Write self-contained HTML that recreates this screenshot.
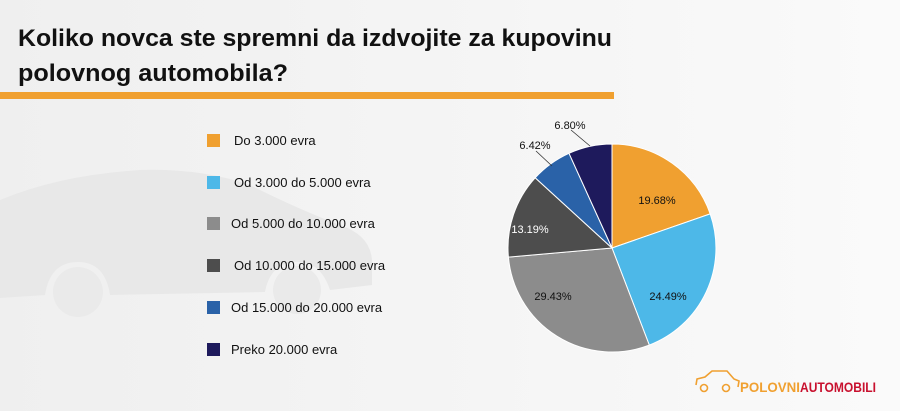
<!DOCTYPE html>
<html><head><meta charset="utf-8"><style>
html,body{margin:0;padding:0;width:900px;height:411px;overflow:hidden;background:#f4f4f4}
svg{display:block}
</style></head><body>
<svg width="900" height="411" viewBox="0 0 900 411" xmlns="http://www.w3.org/2000/svg" font-family="Liberation Sans, sans-serif">
<defs><linearGradient id="bg" x1="0" y1="0" x2="1" y2="0"><stop offset="0" stop-color="#efefef"/><stop offset="1" stop-color="#fafafa"/></linearGradient></defs>
<rect width="900" height="411" fill="url(#bg)"/>
<path d="M0 200 Q60 175 140 170 Q200 168 250 185 Q300 210 340 225 Q370 235 372 260 L372 285 L330 290 Q320 260 295 262 Q270 264 265 292 L110 295 Q105 262 78 262 Q50 262 45 295 L0 298 Z" fill="#e8e8e8"/>
<circle cx="78" cy="292" r="25" fill="#eaeaea"/><circle cx="297" cy="290" r="24" fill="#eaeaea"/>
<text x="18" y="46" font-size="24" font-weight="bold" fill="#111" textLength="594" lengthAdjust="spacingAndGlyphs">Koliko novca ste spremni da izdvojite za kupovinu</text>
<text x="18" y="81" font-size="24" font-weight="bold" fill="#111" textLength="270" lengthAdjust="spacingAndGlyphs">polovnog automobila?</text>
<rect x="0" y="92" width="614" height="7" fill="#F0A030"/>
<g font-size="13" fill="#111">
<rect x="207" y="134" width="13" height="13" fill="#F0A030"/><text x="234" y="145">Do 3.000 evra</text>
<rect x="207" y="176" width="13" height="13" fill="#4DB8E8"/><text x="234" y="187">Od 3.000 do 5.000 evra</text>
<rect x="207" y="217" width="13" height="13" fill="#8C8C8C"/><text x="231" y="228">Od 5.000 do 10.000 evra</text>
<rect x="207" y="259" width="13" height="13" fill="#4D4D4D"/><text x="234" y="270">Od 10.000 do 15.000 evra</text>
<rect x="207" y="301" width="13" height="13" fill="#2A62A8"/><text x="231" y="312">Od 15.000 do 20.000 evra</text>
<rect x="207" y="343" width="13" height="13" fill="#1E1A5C"/><text x="231" y="354">Preko 20.000 evra</text>
</g>
<g stroke="#fff" stroke-width="1">
<path d="M612 248 L612 144 A104 104 0 0 1 710.2 213.9 Z" fill="#F0A030"/>
<path d="M612 248 L710.2 213.9 A104 104 0 0 1 649.3 345.1 Z" fill="#4DB8E8"/>
<path d="M612 248 L649.3 345.1 A104 104 0 0 1 508.4 257.1 Z" fill="#8C8C8C"/>
<path d="M612 248 L508.4 257.1 A104 104 0 0 1 535.2 177.8 Z" fill="#4D4D4D"/>
<path d="M612 248 L535.2 177.8 A104 104 0 0 1 569.0 153.3 Z" fill="#2A62A8"/>
<path d="M612 248 L569.0 153.3 A104 104 0 0 1 612 144 Z" fill="#1E1A5C"/>
</g>
<g stroke="#333" stroke-width="0.8" fill="none">
<polyline points="536,151 552,166"/>
<polyline points="571,130 590,146"/>
</g>
<g font-size="11" text-anchor="middle">
<text x="657" y="204" fill="#111">19.68%</text>
<text x="668" y="300" fill="#111">24.49%</text>
<text x="553" y="300" fill="#111">29.43%</text>
<text x="530" y="233" fill="#fff">13.19%</text>
<text x="535" y="149" fill="#111">6.42%</text>
<text x="570" y="129" fill="#111">6.80%</text>
</g>
<g fill="none" stroke="#F0A030" stroke-width="1.6">
<path d="M696 385 L697 379 L705 377 L712 371 L727 371 L734 379 L739 381 L738 387"/>
<circle cx="704" cy="388" r="3.5"/><circle cx="726" cy="388" r="3.5"/>
</g>
<text x="740" y="392" font-size="14" font-weight="bold" fill="#F0A030" textLength="60" lengthAdjust="spacingAndGlyphs">POLOVNI</text>
<text x="800" y="392" font-size="14" font-weight="bold" fill="#C8102E" textLength="76" lengthAdjust="spacingAndGlyphs">AUTOMOBILI</text>
</svg>
</body></html>
